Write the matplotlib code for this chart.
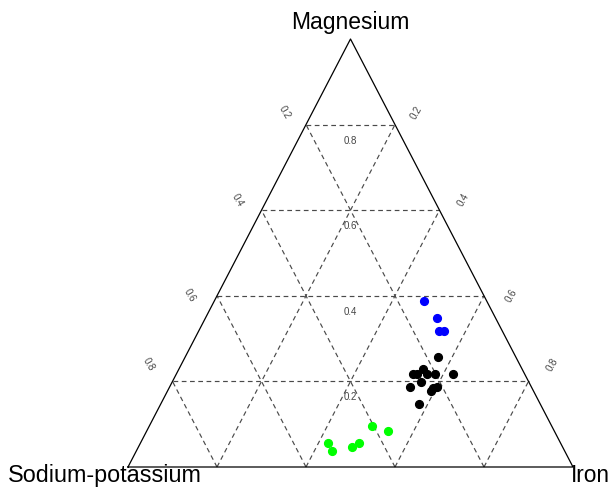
import matplotlib
matplotlib.use("Agg")
import matplotlib.pyplot as plt
import numpy as np

# compositions: (sodium-potassium, magnesium, iron)
blue_nak = [0.141, 0.132, 0.142, 0.131]
blue_mg = [0.388, 0.348, 0.318, 0.318]
blue_fe = [0.471, 0.520, 0.540, 0.551]

black_nak = [0.174, 0.251, 0.242, 0.222, 0.219, 0.201, 0.162, 0.273, 0.241, 0.229, 0.211, 0.222, 0.272]
black_mg = [0.257, 0.218, 0.217, 0.228, 0.218, 0.217, 0.217, 0.187, 0.199, 0.178, 0.187, 0.185, 0.147]
black_fe = [0.569, 0.531, 0.541, 0.550, 0.563, 0.582, 0.621, 0.540, 0.560, 0.593, 0.602, 0.593, 0.581]

green_nak = [0.404, 0.372, 0.521, 0.522, 0.473, 0.452]
green_mg = [0.096, 0.085, 0.057, 0.037, 0.047, 0.057]
green_fe = [0.500, 0.542, 0.422, 0.440, 0.480, 0.491]

grid_levels = [0.2, 0.4, 0.6, 0.8]
grid_labels = ["0.2", "0.4", "0.6", "0.8"]

H = 428 / 445  # triangle height relative to base


def to_xy(nak, mg, fe):
    nak, mg, fe = np.asarray(nak), np.asarray(mg), np.asarray(fe)
    s = nak + mg + fe
    mg, fe = mg / s, fe / s
    return fe + mg / 2, mg * H


fig = plt.figure(figsize=(6.11, 4.87), dpi=100)
ax = fig.add_axes([0, 0, 1, 1])
ax.set_xlim(-128 / 445, 483 / 445)
ax.set_ylim(-20 / 445, 467 / 445)
ax.axis("off")

plt.rcParams["font.family"] = ["Liberation Sans", "DejaVu Sans"]

# dashed grid
gkw = dict(color="#4a4a4a", lw=0.85, ls=(0, (4, 3)), zorder=1)
for k in grid_levels:
    # constant magnesium
    x, y = to_xy([1 - k, 0], [k, k], [0, 1 - k])
    ax.plot(x, y, **gkw)
    # constant iron
    x, y = to_xy([1 - k, 0], [0, 1 - k], [k, k])
    ax.plot(x, y, **gkw)
    # constant sodium-potassium
    x, y = to_xy([k, k], [0, 1 - k], [1 - k, 0])
    ax.plot(x, y, **gkw)

# outline
x, y = to_xy([1, 0, 0, 1], [0, 0, 1, 0], [0, 1, 0, 0])
ax.plot(x, y, color="black", lw=0.9, zorder=2)

# tick labels
lkw = dict(fontsize=7, color="#444444", ha="center", va="center")
for k, lab in zip(grid_levels, grid_labels):
    x, y = to_xy(0.5 * (1 - k), k, 0.5 * (1 - k))
    ax.text(x, y - 16 / 445, lab, **lkw)
left_off = [(-21, 12), (-24, 10), (-27, 0), (-24, 17)]
for k, lab, (dx, dy) in zip(grid_levels, grid_labels, left_off):
    x, y = to_xy(k, 1 - k, 0)
    ax.text(x + dx / 445, y + dy / 445, lab, rotation=-60, **lkw)
    x, y = to_xy(0, 1 - k, k)
    ax.text(x - dx / 445, y + dy / 445, lab, rotation=60, **lkw)

# points
pkw = dict(marker="o", ls="none", ms=5.6, zorder=3)
x, y = to_xy(blue_nak, blue_mg, blue_fe)
ax.plot(x, y, color="#0000FF", **pkw)
x, y = to_xy(black_nak, black_mg, black_fe)
ax.plot(x, y, color="black", **pkw)
x, y = to_xy(green_nak, green_mg, green_fe)
ax.plot(x, y, color="#00FF00", **pkw)

# vertex labels
ax.text(0.5, H + 10 / 445, "Magnesium", fontsize=16.5, ha="center", va="baseline")
ax.text(-23.5 / 445, -15 / 445, "Sodium-potassium", fontsize=16.8, ha="center", va="baseline")
ax.text(1.0 - 2.5 / 445, -15 / 445, "Iron", fontsize=16.3, ha="left", va="baseline")

fig.savefig("out.png", dpi=100)
